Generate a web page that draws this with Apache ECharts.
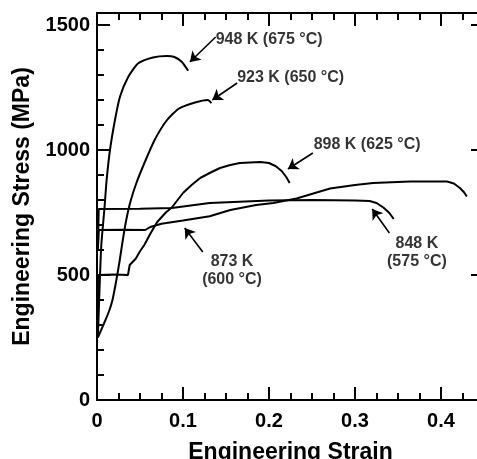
<!DOCTYPE html>
<html>
<head>
<meta charset="utf-8">
<script src="https://cdn.jsdelivr.net/npm/echarts@6/dist/echarts.min.js"></script>
<style>
html, body { margin: 0; padding: 0; background: #fff; }
#main { width: 477px; height: 459px; }
</style>
</head>
<body>
<div id="main"></div>
<script>
/*
 *  Engineering stress-strain curves at five temperatures
*/
// [strain, stress MPa]
var s948 = [[0.001,250],[0.003,450],[0.005,620],[0.0085,760],[0.0112,880],[0.0151,1000],[0.0209,1120],[0.0267,1213],[0.0364,1293],[0.048,1347],[0.065,1370],[0.081,1376],[0.09,1372],[0.0985,1353],[0.106,1317]];
var s923 = [[0.001,250],[0.008,305],[0.014,355],[0.018,400],[0.022,470],[0.026,550],[0.03,640],[0.034,720],[0.039,795],[0.046,870],[0.056,955],[0.067,1040],[0.081,1118],[0.095,1165],[0.114,1190],[0.129,1200],[0.133,1187]];
var s898 = [[0.001,300],[0.002,500],[0.02,502],[0.036,500],[0.038,540],[0.045,565],[0.05,595],[0.055,620],[0.062,665],[0.07,712],[0.08,750],[0.087,770],[0.1,828],[0.11,860],[0.12,888],[0.131,908],[0.143,928],[0.155,940],[0.166,948],[0.178,950],[0.19,952],[0.2,948],[0.208,935],[0.215,915],[0.22,892],[0.224,868]];
var s873 = [[0.001,600],[0.002,680],[0.03,681],[0.056,680],[0.062,692],[0.075,705],[0.1,718],[0.131,735],[0.155,760],[0.185,780],[0.205,788],[0.232,806],[0.271,846],[0.3,860],[0.321,868],[0.364,874],[0.407,874],[0.415,866],[0.422,848],[0.427,830],[0.43,814]];
var s848 = [[0.001,600],[0.002,764],[0.05,765],[0.087,768],[0.131,788],[0.2,798],[0.25,800],[0.3,798],[0.317,796],[0.325,788],[0.333,770],[0.34,748],[0.345,724]];

var xTicks = [0, 0.1, 0.2, 0.3, 0.4];
var yTicks = [0, 500, 1000, 1500];

// 注释: 文字, 文字位置, 箭头起点, 箭头终点 (data coords)
var noteText = ['948 K (675 °C)', '923 K (650 °C)', '898 K (625 °C)', '873 K\n(600 °C)', '848 K\n(575 °C)'];
var noteAt = [[0.138,1440],[0.163,1288],[0.252,1020],[0.157,516],[0.372,588]];
var arrowFrom = [[0.138,1452],[0.163,1268],[0.251,988],[0.123,592],[0.340,668]];
var arrowTo = [[0.108,1352],[0.134,1200],[0.222,924],[0.102,688],[0.320,764]];

var FONT = '"Liberation Sans", Arial, sans-serif';
var myChart = echarts.init(document.getElementById('main'));

function majorX(pos, withLabel) {
    return {
        type: 'value', gridIndex: 0, position: pos, min: 0, max: 0.45, interval: 0.1,
        axisLine: { onZero: false, lineStyle: { color: '#000', width: 2 } },
        axisTick: { inside: true, length: 13, lineStyle: { color: '#000', width: 2 } },
        axisLabel: {
            show: withLabel, margin: 11, color: '#000', fontSize: 20, fontWeight: 'bold', fontFamily: FONT,
            showMaxLabel: false,
            formatter: function (v) {
                var r = Math.round(v * 10) / 10;
                return (Math.abs(v - r) < 1e-6 && xTicks.indexOf(r) >= 0) ? String(r) : '';
            }
        },
        splitLine: { show: false }
    };
}
function minorX(pos) {
    return {
        type: 'value', gridIndex: 1, position: pos, min: 0, max: 0.45, interval: 0.025,
        axisLine: { show: false, onZero: false },
        axisTick: { inside: true, length: 7, lineStyle: { color: '#000', width: 2 } },
        axisLabel: { show: false }, splitLine: { show: false }
    };
}
function majorY(pos, withLabel) {
    return {
        type: 'value', gridIndex: 0, position: pos, min: 0, max: 1548, interval: 500,
        axisLine: { onZero: false, lineStyle: { color: '#000', width: 2 } },
        axisTick: { inside: true, length: 13, lineStyle: { color: '#000', width: 2 } },
        axisLabel: {
            show: withLabel, margin: 7, color: '#000', fontSize: 20, fontWeight: 'bold', fontFamily: FONT,
            showMaxLabel: false,
            formatter: function (v) { return yTicks.indexOf(v) >= 0 ? String(v) : ''; }
        },
        splitLine: { show: false }
    };
}
function minorY(pos) {
    return {
        type: 'value', gridIndex: 1, position: pos, min: 0, max: 1548, interval: 100,
        axisLine: { show: false, onZero: false },
        axisTick: { inside: true, length: 7, lineStyle: { color: '#000', width: 2 } },
        axisLabel: { show: false }, splitLine: { show: false }
    };
}

var xMain = majorX('bottom', true);
xMain.name = 'Engineering Strain';
xMain.nameLocation = 'middle';
xMain.nameGap = 41;
xMain.nameTextStyle = { color: '#000', fontSize: 23, fontWeight: 'bold', fontFamily: FONT };
var yMain = majorY('left', true);
yMain.name = 'Engineering Stress (MPa)';
yMain.nameLocation = 'middle';
yMain.nameGap = 59;
yMain.nameTextStyle = { color: '#000', fontSize: 23, fontWeight: 'bold', fontFamily: FONT };

// 948/923 曲线光滑, 其余保留锯齿
var curveSeries = [s948, s923, s898, s873, s848].map(function (d, i) {
    return {
        type: 'line', xAxisIndex: 0, yAxisIndex: 0, data: d,
        showSymbol: false, symbol: 'none', silent: true,
        smooth: i < 2 ? 0.2 : false,
        lineStyle: { color: '#000', width: 2 }
    };
});

var noteData = noteText.map(function (t, i) {
    var centered = t.indexOf('\n') >= 0;
    return {
        value: [noteAt[i][0], noteAt[i][1]],
        label: {
            show: true, formatter: t,
            position: centered ? 'inside' : 'right', distance: 0,
            align: centered ? 'center' : 'left', verticalAlign: 'middle',
            color: '#000', fontSize: 16, fontWeight: 'bold', fontFamily: FONT, lineHeight: 18
        }
    };
});
var arrowData = arrowFrom.map(function (a, i) {
    return [{ coord: a }, { coord: arrowTo[i] }];
});

var option = {
    animation: false,
    backgroundColor: '#fff',
    grid: [
        { left: 97, top: 13, width: 387, height: 387, outerBoundsMode: 'none' },
        { left: 97, top: 13, width: 387, height: 387, outerBoundsMode: 'none' }
    ],
    xAxis: [xMain, majorX('top', false), minorX('bottom'), minorX('top')],
    yAxis: [yMain, majorY('right', false), minorY('left'), minorY('right')],
    series: curveSeries.concat([{
        type: 'scatter', xAxisIndex: 0, yAxisIndex: 0, symbolSize: 0, silent: true,
        data: noteData,
        markLine: {
            silent: true, symbol: ['none', 'arrow'], symbolSize: 10,
            label: { show: false },
            lineStyle: { color: '#000', width: 1.6, type: 'solid' },
            data: arrowData
        }
    }])
};
myChart.setOption(option);
</script>
</body>
</html>
